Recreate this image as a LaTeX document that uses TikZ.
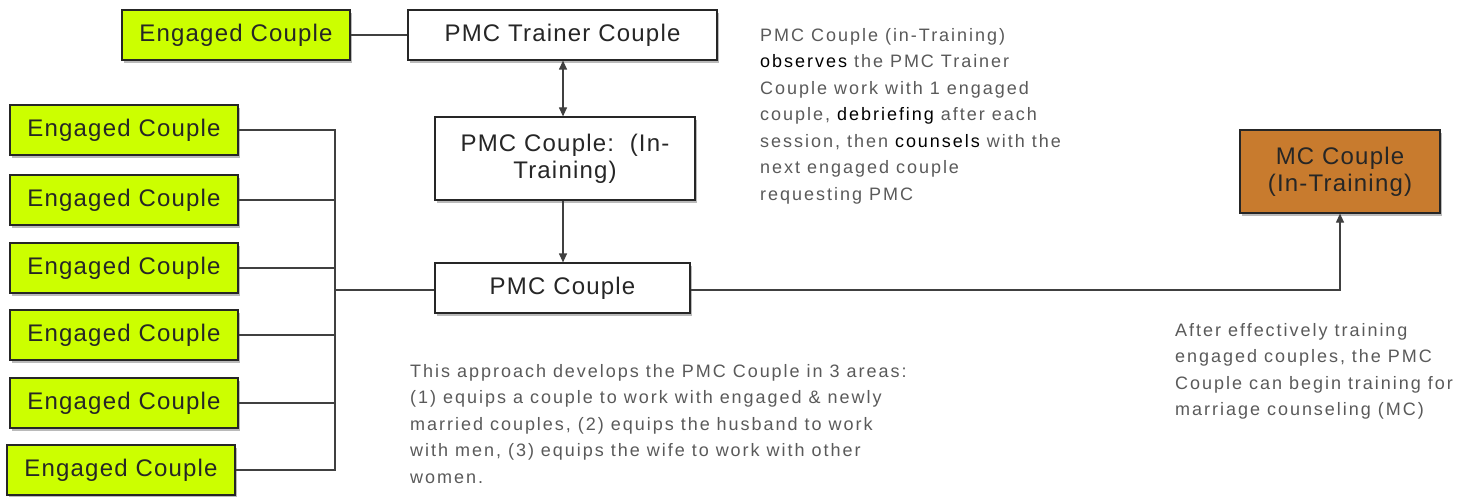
\documentclass[tikz,border=0pt]{standalone}
\usepackage{fontspec}
\setmainfont{Liberation Sans}
\newfontfamily\notefont[LetterSpace=11]{Liberation Sans}
\newfontfamily\boxfont[LetterSpace=5]{Liberation Sans}
\usetikzlibrary{shadows,arrows.meta}
\definecolor{lime}{HTML}{CCFF00}
\definecolor{mcbrown}{HTML}{C87B2E}
\definecolor{txtgray}{HTML}{5A5A5A}
\begin{document}
\begin{tikzpicture}[x=1pt,y=-1pt,
  box/.style={draw=black!85,line width=1.2pt,inner sep=0pt,align=center,text=black!85,
    font=\boxfont\fontsize{24}{27}\selectfont,
    drop shadow={shadow xshift=2pt,shadow yshift=-3pt,opacity=0.45,fill=black!60}},
  ecbox/.style={box,fill=lime,minimum width=228pt,minimum height=50pt},
  wbox/.style={box,fill=white},
  mcboxs/.style={box,fill=mcbrown,minimum width=200pt,minimum height=83pt},
  conn/.style={draw=black!75,line width=1.2pt},
  tip/.style={-{Triangle[length=9pt,width=8pt]}},
  note/.style={anchor=north west,align=left,text=txtgray,inner sep=0pt,
    font=\notefont\fontsize{18}{26.5}\selectfont}]
\useasboundingbox[fill=white] (0,0) rectangle (1471,497);

\node[ecbox] (ec0) at (236,35) {Engaged Couple};
\node[wbox,minimum width=309pt,minimum height=50pt] (trainer) at (562.5,35) {PMC Trainer Couple};
\node[wbox,minimum width=260pt,minimum height=83pt] (intr) at (565,158.5) {PMC Couple:\ \ (In-\\Training)};
\node[wbox,minimum width=255pt,minimum height=50pt] (pmc) at (562.5,288) {PMC Couple};
\node[mcboxs] (mc) at (1340,171.5) {MC Couple\\(In-Training)};

\node[ecbox] (ec1) at (124,130) {Engaged Couple};
\node[ecbox] (ec2) at (124,200) {Engaged Couple};
\node[ecbox] (ec3) at (124,268) {Engaged Couple};
\node[ecbox] (ec4) at (124,335) {Engaged Couple};
\node[ecbox] (ec5) at (124,403) {Engaged Couple};
\node[ecbox] (ec6) at (121,470) {Engaged Couple};

\coordinate (bus) at (335,290);

\draw[conn] (ec0.east) -- (trainer.west);
\draw[conn,{Triangle[length=9pt,width=8pt]}-{Triangle[length=9pt,width=8pt]}] (trainer.south -| 563,0) -- (intr.north -| 563,0);
\draw[conn,tip] (intr.south -| 563,0) -- (pmc.north -| 563,0);
\foreach \i in {1,...,6} {\draw[conn] (ec\i.east) -| (bus);}
\draw[conn] (bus) -- (pmc.west |- bus);
\draw[conn,tip] (pmc.east |- bus) -| (mc.south);

\node[note] (t1) at (760,28) {PMC Couple (in-Training)\\
\textcolor{black}{observes} the PMC Trainer\\
Couple work with 1 engaged\\
couple, \textcolor{black}{debriefing} after each\\
session, then \textcolor{black}{counsels} with the\\
next engaged couple\\
requesting PMC};
\node[note] (t2) at (410,364) {This approach develops the PMC Couple in 3 areas:\\
(1) equips a couple to work with engaged \& newly\\
married couples, (2) equips the husband to work\\
with men, (3) equips the wife to work with other\\
women.};
\node[note] (t3) at (1175,323) {After effectively training\\
engaged couples, the PMC\\
Couple can begin training for\\
marriage counseling (MC)};
\end{tikzpicture}
\end{document}
